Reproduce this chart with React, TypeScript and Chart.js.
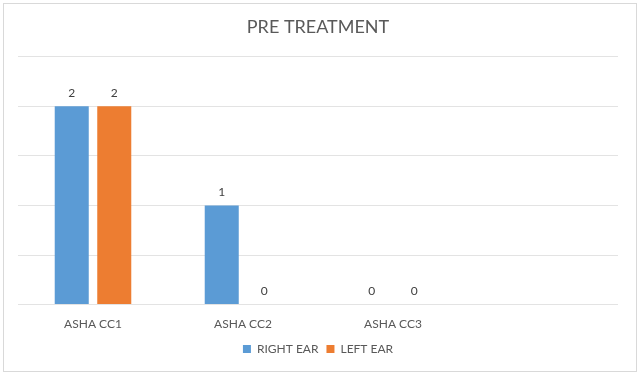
import React, { useEffect, useRef } from "react";
import { Chart, registerables } from "chart.js";

Chart.register(...registerables);

const categories = ["ASHA CC1", "ASHA CC2", "ASHA CC3", ""];
const rightEar = [2, 1, 0, null];
const leftEar = [2, 0, 0, null];
const chartTitle = "PRE TREATMENT";
const seriesNames = ["RIGHT EAR", "LEFT EAR"];

const FONT = "Lato, 'Open Sans', sans-serif";

const frame = {
  id: "frame",
  beforeDraw(chart: any) {
    const { ctx, width, height } = chart;
    ctx.save();
    ctx.fillStyle = "#ffffff";
    ctx.fillRect(0, 0, width, height);
    ctx.strokeStyle = "#d9d9d9";
    ctx.lineWidth = 1;
    ctx.strokeRect(3.5, 3.5, width - 7, height - 8);
    ctx.restore();
  },
};

const valueLabels = {
  id: "valueLabels",
  afterDatasetsDraw(chart: any) {
    const { ctx } = chart;
    ctx.save();
    ctx.font = `12px ${FONT}`;
    ctx.fillStyle = "#404040";
    ctx.textAlign = "center";
    ctx.textBaseline = "bottom";
    chart.data.datasets.forEach((ds: any, i: number) => {
      const meta = chart.getDatasetMeta(i);
      meta.data.forEach((el: any, j: number) => {
        const v = ds.data[j];
        if (v === null || v === undefined) return;
        ctx.fillText(String(v), el.x, el.y - 7);
      });
    });
    ctx.restore();
  },
};

export default function App() {
  const ref = useRef<HTMLCanvasElement>(null);
  useEffect(() => {
    document.body.style.margin = "0";
    const chart = new Chart(ref.current!, {
      type: "bar",
      data: {
        labels: categories,
        datasets: [
          { label: seriesNames[0], data: rightEar, backgroundColor: "#5B9BD5" },
          { label: seriesNames[1], data: leftEar, backgroundColor: "#ED7D31" },
        ],
      },
      options: {
        responsive: false,
        animation: false,
        layout: { padding: { left: 18, right: 22, top: 0, bottom: 11 } },
        datasets: { bar: { categoryPercentage: 0.567, barPercentage: 0.8 } },
        plugins: {
          title: {
            display: true,
            text: chartTitle,
            color: "#595959",
            font: { family: FONT, size: 18, weight: "normal" },
            padding: { top: 16, bottom: 19 },
          },
          legend: {
            position: "bottom",
            labels: {
              color: "#595959",
              font: { family: FONT, size: 12 },
              boxWidth: 8,
              boxHeight: 8,
              padding: 8,
            },
          },
          tooltip: { enabled: false },
        },
        scales: {
          x: {
            grid: { display: false },
            border: { display: false },
            ticks: { color: "#595959", font: { family: FONT, size: 12 }, padding: 4 },
          },
          y: {
            min: 0,
            max: 2.5,
            ticks: { display: false, stepSize: 0.5 },
            grid: { color: "#e3e3e3", drawTicks: false },
            border: { display: false },
          },
        },
      },
      plugins: [frame, valueLabels],
    });
    return () => chart.destroy();
  }, []);
  return (
    <div style={{ width: 640, height: 376 }}>
      <canvas ref={ref} width={640} height={376} />
    </div>
  );
}
